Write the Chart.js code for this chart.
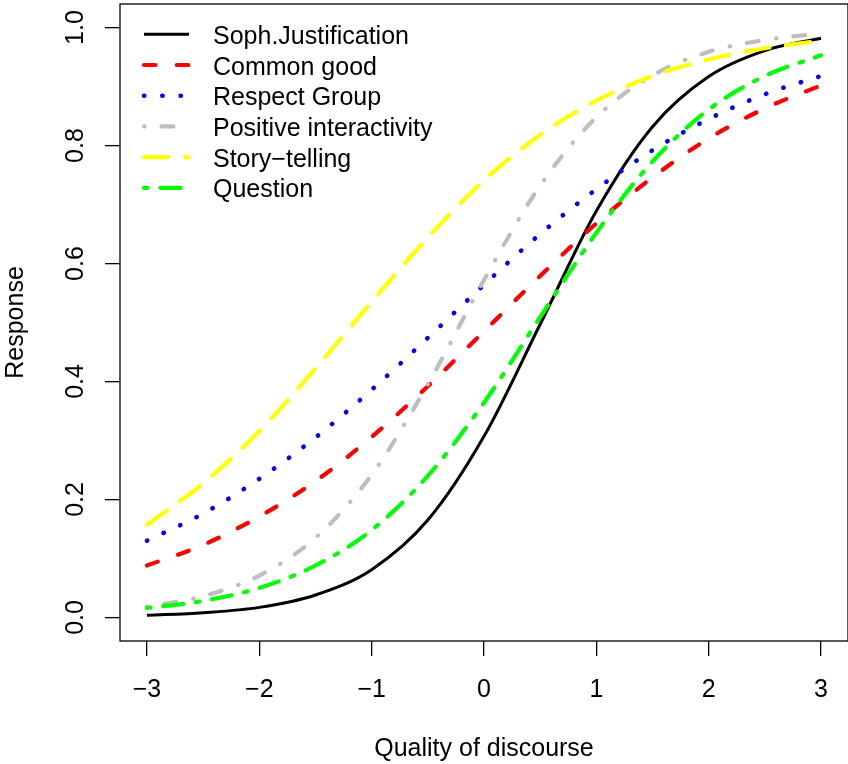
<!DOCTYPE html>
<html>
<head>
<meta charset="utf-8">
<script src="https://cdn.jsdelivr.net/npm/chart.js@4.4.0/dist/chart.umd.min.js"></script>
<style>
  html, body { margin: 0; padding: 0; background: #fff; }
  canvas { display: block; }
</style>
</head>
<body>
<canvas id="curve" width="848" height="764"></canvas>
<script>
// valori (curve caratteristiche)
const xVals = [-3, -2.5, -2, -1.5, -1, -0.5, 0, 0.5, 1, 1.5, 2, 2.5, 3];
const sophJustification = [0.0035, 0.008, 0.017, 0.038, 0.081, 0.165, 0.307, 0.497, 0.689, 0.832, 0.917, 0.961, 0.982];
const commonGood = [0.088, 0.123, 0.171, 0.231, 0.306, 0.392, 0.485, 0.579, 0.668, 0.746, 0.812, 0.863, 0.902];
const respectGroup = [0.130, 0.176, 0.235, 0.305, 0.386, 0.474, 0.564, 0.650, 0.726, 0.792, 0.845, 0.887, 0.918];
const positiveInteractivity = [0.018, 0.036, 0.071, 0.135, 0.242, 0.395, 0.572, 0.732, 0.848, 0.919, 0.959, 0.979, 0.990];
const storyTelling = [0.157, 0.227, 0.316, 0.422, 0.535, 0.644, 0.741, 0.818, 0.876, 0.918, 0.946, 0.965, 0.978];
const question = [0.016, 0.028, 0.050, 0.088, 0.148, 0.240, 0.364, 0.509, 0.652, 0.773, 0.861, 0.918, 0.953];

const seriesNames = ['Soph.Justification', 'Common good', 'Respect Group', 'Positive interactivity', 'Story\u2212telling', 'Question'];
const xTicks = [-3, -2, -1, 0, 1, 2, 3];
const xTickLabels = ['\u22123', '\u22122', '\u22121', '0', '1', '2', '3'];
const yTicks = [0, 0.2, 0.4, 0.6, 0.8, 1.0];
const yTickLabels = ['0.0', '0.2', '0.4', '0.6', '0.8', '1.0'];

const FONT = "25px 'Liberation Sans', Arial, sans-serif";

function pts(arr) {
    return arr.map((v, i) => ({ x: xVals[i], y: v }));
}

const styles = [
    { color: '#000000', width: 3, dash: [] },             // solido
    { color: '#FF0000', width: 4.2, dash: [11.5, 21.3] },  // tratteggio
    { color: '#0000FF', width: 4.6, dash: [0.3, 18] },     // puntini
    { color: '#BEBEBE', width: 4.2, dash: [0.5, 17, 12, 17.5] }, // punto-linea
    { color: '#FFFF00', width: 4.2, dash: [24.5, 16.5] },  // tratto lungo
    { color: '#00FF00', width: 4.2, dash: [3.7, 12.7, 20.1, 12.7] } // due tratti
];
const series = [sophJustification, commonGood, respectGroup, positiveInteractivity, storyTelling, question];

const datasets = series.map((s, i) => ({
    label: seriesNames[i],
    data: pts(s),
    borderColor: styles[i].color,
    borderWidth: styles[i].width,
    borderDash: styles[i].dash,
    borderCapStyle: i === 0 ? 'butt' : 'round',
    borderJoinStyle: 'round',
    pointRadius: 0,
    cubicInterpolationMode: 'monotone',
    fill: false,
    order: 10 - i // come in R: l'ultima serie sopra
}));

// box, etichette e legenda stile R
const rStyle = {
    id: 'rStyle',
    afterDraw(chart) {
        const c = chart.ctx;
        const a = chart.chartArea;
        const xs = chart.scales.x, ys = chart.scales.y;
        c.save();
        c.strokeStyle = '#000';
        c.lineWidth = 1.3;
        c.strokeRect(a.left, a.top, a.right - a.left, a.bottom - a.top);

        c.fillStyle = '#000';
        c.font = FONT;
        c.textAlign = 'center';
        c.textBaseline = 'alphabetic';
        xTicks.forEach((v, i) => {
            c.fillText(xTickLabels[i], xs.getPixelForValue(v), 697);
        });
        yTicks.forEach((v, i) => {
            c.save();
            c.translate(83, ys.getPixelForValue(v));
            c.rotate(-Math.PI / 2);
            c.fillText(yTickLabels[i], 0, 0);
            c.restore();
        });
        c.fillText('Quality of discourse', (a.left + a.right) / 2, 756);
        c.save();
        c.translate(23, (a.top + a.bottom) / 2);
        c.rotate(-Math.PI / 2);
        c.fillText('Response', 0, 0);
        c.restore();

        // legenda
        c.textAlign = 'left';
        chart.data.datasets.forEach((d, i) => {
            const y = 34.3 + i * 30.7;
            c.save();
            c.strokeStyle = d.borderColor;
            c.lineWidth = d.borderWidth;
            c.setLineDash(d.borderDash);
            c.lineCap = d.borderCapStyle;
            c.beginPath();
            c.moveTo(144, y);
            c.lineTo(189, y);
            c.stroke();
            c.restore();
            c.fillText(d.label, 213, y + 9.5);
        });
        c.restore();
    }
};

const ctx = document.getElementById('curve').getContext('2d');

new Chart(ctx, {
    type: 'line',
    data: { datasets: datasets },
    options: {
        responsive: false,
        animation: false,
        devicePixelRatio: 1,
        layout: { padding: { top: 4, right: 0, left: 0, bottom: 0 } },
        plugins: {
            legend: { display: false },
            tooltip: { enabled: false }
        },
        scales: {
            x: {
                type: 'linear',
                min: -3.24,
                max: 3.24,
                afterBuildTicks: s => { s.ticks = xTicks.map(v => ({ value: v })); },
                afterFit: s => { s.height = 123; },
                ticks: { display: false },
                border: { display: false },
                grid: { drawOnChartArea: false, drawTicks: true, tickLength: 15, color: '#000', lineWidth: 1.3 }
            },
            y: {
                type: 'linear',
                min: -0.04,
                max: 1.04,
                afterBuildTicks: s => { s.ticks = yTicks.map(v => ({ value: v })); },
                afterFit: s => { s.width = 120; },
                ticks: { display: false },
                border: { display: false },
                grid: { drawOnChartArea: false, drawTicks: true, tickLength: 15, color: '#000', lineWidth: 1.3 }
            }
        }
    },
    plugins: [rStyle]
});
</script>
</body>
</html>
